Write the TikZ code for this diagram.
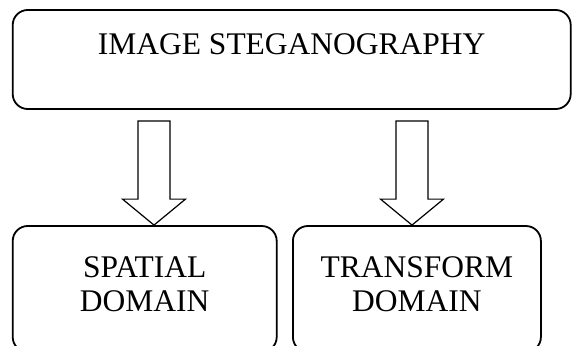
\documentclass[tikz,border=0pt]{standalone}
\usepackage{fontspec}
\setmainfont{Liberation Serif}
\usetikzlibrary{positioning}
\usetikzlibrary{calc}
\tikzstyle{box}=[draw,rounded corners=15pt,line width=1.8pt,inner sep=0pt,align=center,font=\fontsize{31.5}{34}\selectfont]
\tikzstyle{hollow}=[draw,line width=1.2pt,fill=white,line join=miter]

\begin{document}
\begin{tikzpicture}[x=1pt,y=-1pt]

  \useasboundingbox (0,0) rectangle (572,345);

  \node[box, minimum width=558pt, minimum height=99pt, text height=25pt, text depth=34pt] (img) at (291.7,59.5) {IMAGE STEGANOGRAPHY};

  \foreach \x/\w/\name/\label in {144.7/264/spatial/{SPATIAL\\DOMAIN}, 416.9/248/transform/{TRANSFORM\\DOMAIN}}
         \node[box, minimum width=\w pt, minimum height=126pt, text height=55pt, text depth=11pt] (\name) at (\x,289) {\label};

  \foreach \x/\dest in {154/spatial, 412/transform}{
         \coordinate (a) at (\x,0);
         \coordinate (top) at ($(a |- img.south)+(0,11)$);
         \coordinate (tip) at (a |- \dest.north);
         \draw[hollow] ($(top)+(-16,0)$) -- ($(top)+(16,0)$) -- ($(tip)+(16,-26)$) -- ($(tip)+(31.5,-26)$) -- (tip)
               -- ($(tip)+(-31.5,-26)$) -- ($(tip)+(-16,-26)$) -- cycle;
  }

\end{tikzpicture}
\end{document}
